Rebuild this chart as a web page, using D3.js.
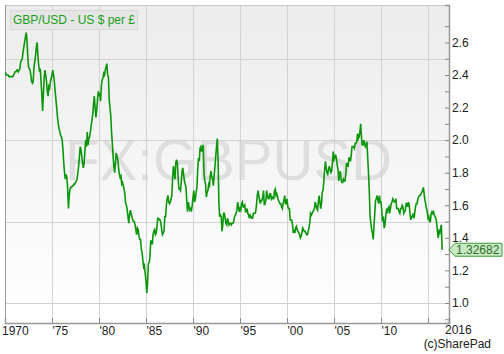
<!DOCTYPE html>
<html>
<head>
<meta charset="utf-8">
<script src="https://cdn.jsdelivr.net/npm/d3@7"></script>
<style>
  html, body { margin: 0; padding: 0; background: #ffffff; }
  svg { display: block; font-family: "Liberation Sans", Arial, sans-serif; }
</style>
</head>
<body>
<svg id="chart" width="504" height="354"></svg>
<script>
// ---- data (monthly GBP/USD, Jan 1970 .. Jul 2016) ----
const startYear = 1970;
const rates = [
  // 1970
  2.42, 2.41, 2.40, 2.40, 2.40, 2.39, 2.39, 2.39, 2.39, 2.39, 2.39, 2.40,
  // 1971
  2.41, 2.42, 2.42, 2.43, 2.43, 2.42, 2.43, 2.44, 2.48, 2.49, 2.50, 2.54,
  // 1972
  2.57, 2.60, 2.63, 2.66, 2.62, 2.52, 2.45, 2.44, 2.43, 2.40, 2.36, 2.35,
  // 1973
  2.36, 2.45, 2.48, 2.52, 2.57, 2.60, 2.52, 2.46, 2.42, 2.44, 2.36, 2.28,
  // 1974
  2.18, 2.28, 2.38, 2.43, 2.40, 2.36, 2.30, 2.27, 2.33, 2.32, 2.36, 2.38,
  // 1975
  2.40, 2.43, 2.40, 2.36, 2.30, 2.25, 2.20, 2.14, 2.10, 2.07, 2.05, 2.03,
  // 1976
  2.02, 2.00, 1.94, 1.86, 1.80, 1.76, 1.79, 1.77, 1.70, 1.58, 1.66, 1.70,
  // 1977
  1.71, 1.71, 1.72, 1.72, 1.73, 1.73, 1.74, 1.75, 1.76, 1.80, 1.84, 1.90,
  // 1978
  1.96, 1.94, 1.90, 1.86, 1.83, 1.86, 1.93, 2.00, 1.96, 2.05, 1.97, 2.01,
  // 1979
  2.02, 2.05, 2.09, 2.12, 2.16, 2.22, 2.27, 2.20, 2.14, 2.18, 2.24, 2.30,
  // 1980
  2.27, 2.29, 2.24, 2.33, 2.37, 2.38, 2.41, 2.40, 2.43, 2.45, 2.47, 2.40,
  // 1981
  2.39, 2.25, 2.20, 2.15, 2.05, 1.98, 1.90, 1.84, 1.80, 1.86, 1.92, 1.90,
  // 1982
  1.88, 1.83, 1.79, 1.77, 1.78, 1.73, 1.74, 1.72, 1.70, 1.67, 1.61, 1.60,
  // 1983
  1.57, 1.53, 1.49, 1.54, 1.57, 1.55, 1.53, 1.51, 1.50, 1.50, 1.48, 1.45,
  // 1984
  1.42, 1.46, 1.45, 1.41, 1.39, 1.39, 1.33, 1.31, 1.26, 1.22, 1.23, 1.18,
  // 1985
  1.13, 1.06, 1.12, 1.24, 1.25, 1.28, 1.38, 1.38, 1.36, 1.42, 1.44, 1.45,
  // 1986
  1.42, 1.43, 1.47, 1.52, 1.52, 1.51, 1.51, 1.49, 1.45, 1.42, 1.43, 1.44,
  // 1987
  1.53, 1.53, 1.60, 1.64, 1.66, 1.62, 1.61, 1.62, 1.64, 1.66, 1.77, 1.84,
  // 1988
  1.80, 1.76, 1.86, 1.88, 1.86, 1.77, 1.70, 1.70, 1.69, 1.74, 1.81, 1.83,
  // 1989
  1.79, 1.75, 1.73, 1.71, 1.63, 1.56, 1.62, 1.59, 1.57, 1.58, 1.57, 1.60,
  // 1990
  1.65, 1.69, 1.62, 1.64, 1.68, 1.71, 1.82, 1.89, 1.87, 1.95, 1.96, 1.93,
  // 1991
  1.95, 1.97, 1.80, 1.75, 1.73, 1.65, 1.68, 1.69, 1.73, 1.72, 1.78, 1.81,
  // 1992
  1.78, 1.76, 1.72, 1.78, 1.84, 1.90, 1.96, 2.01, 1.88, 1.62, 1.53, 1.54,
  // 1993
  1.53, 1.44, 1.48, 1.55, 1.55, 1.52, 1.49, 1.48, 1.52, 1.50, 1.48, 1.49,
  // 1994
  1.49, 1.48, 1.49, 1.49, 1.50, 1.53, 1.54, 1.55, 1.57, 1.62, 1.59, 1.56,
  // 1995
  1.58, 1.57, 1.61, 1.62, 1.59, 1.59, 1.60, 1.56, 1.56, 1.58, 1.55, 1.54,
  // 1996
  1.52, 1.54, 1.53, 1.52, 1.52, 1.55, 1.55, 1.55, 1.56, 1.60, 1.66, 1.69,
  // 1997
  1.66, 1.63, 1.61, 1.63, 1.63, 1.65, 1.69, 1.60, 1.61, 1.63, 1.69, 1.66,
  // 1998
  1.64, 1.64, 1.67, 1.67, 1.64, 1.65, 1.64, 1.64, 1.69, 1.70, 1.66, 1.67,
  // 1999
  1.65, 1.63, 1.62, 1.61, 1.61, 1.59, 1.58, 1.61, 1.63, 1.66, 1.61, 1.61,
  // 2000
  1.64, 1.59, 1.58, 1.58, 1.51, 1.51, 1.51, 1.48, 1.43, 1.45, 1.43, 1.46,
  // 2001
  1.47, 1.45, 1.44, 1.43, 1.42, 1.40, 1.41, 1.43, 1.46, 1.45, 1.44, 1.44,
  // 2002
  1.43, 1.42, 1.42, 1.44, 1.46, 1.49, 1.55, 1.54, 1.55, 1.56, 1.57, 1.58,
  // 2003
  1.62, 1.60, 1.58, 1.57, 1.62, 1.66, 1.62, 1.58, 1.61, 1.68, 1.69, 1.75,
  // 2004
  1.82, 1.87, 1.83, 1.80, 1.79, 1.82, 1.84, 1.82, 1.80, 1.81, 1.86, 1.93,
  // 2005
  1.88, 1.89, 1.91, 1.89, 1.85, 1.82, 1.75, 1.79, 1.81, 1.76, 1.74, 1.74,
  // 2006
  1.76, 1.75, 1.75, 1.79, 1.86, 1.84, 1.84, 1.89, 1.89, 1.87, 1.91, 1.96,
  // 2007
  1.96, 1.96, 1.95, 1.98, 1.98, 1.99, 2.04, 2.01, 2.02, 2.05, 2.10, 2.02,
  // 2008
  1.97, 1.97, 2.00, 1.98, 1.96, 1.97, 1.99, 1.89, 1.80, 1.69, 1.53, 1.49,
  // 2009
  1.45, 1.43, 1.39, 1.47, 1.55, 1.63, 1.64, 1.66, 1.63, 1.61, 1.66, 1.62,
  // 2010
  1.62, 1.56, 1.50, 1.53, 1.46, 1.48, 1.53, 1.57, 1.56, 1.58, 1.59, 1.55,
  // 2011
  1.58, 1.61, 1.62, 1.64, 1.63, 1.62, 1.62, 1.64, 1.58, 1.58, 1.58, 1.56,
  // 2012
  1.55, 1.58, 1.58, 1.60, 1.59, 1.55, 1.56, 1.57, 1.61, 1.61, 1.59, 1.62,
  // 2013
  1.60, 1.55, 1.51, 1.53, 1.53, 1.55, 1.52, 1.55, 1.59, 1.61, 1.61, 1.64,
  // 2014
  1.65, 1.66, 1.66, 1.67, 1.68, 1.69, 1.71, 1.67, 1.63, 1.61, 1.58, 1.56,
  // 2015
  1.52, 1.53, 1.50, 1.50, 1.55, 1.56, 1.55, 1.56, 1.54, 1.53, 1.52, 1.49,
  // 2016
  1.44, 1.40, 1.44, 1.43, 1.46, 1.48, 1.32682
];
const lastValue = "1.32682";
const yTickValues = [0.9,1.0,1.1,1.2,1.3,1.4,1.5,1.6,1.7,1.8,1.9,2.0,2.1,2.2,2.3,2.4,2.5,2.6,2.7];
const yLabelValues = [1.0,1.2,1.4,1.6,1.8,2.0,2.2,2.4,2.6];
const yGridValues = [1.0,1.5,2.0,2.5];
const xTickYears = [1975,1980,1985,1990,1995,2000,2005,2010,2015];
const xTickLabels = ["'75","'80","'85","'90","'95","'00","'05","'10",""];
const seriesName = "GBP/USD - US $ per £";
const watermark = "FX:GBPUSD";
const credit = "(c)SharePad";

// ---- layout ----
const L = 5, R = 449, T = 5, B = 323;
const svg = d3.select("#chart");

const x = d3.scaleLinear().domain([1970, 2017.23]).range([L, R]);
const y = d3.scaleLinear().domain([0.877, 2.83]).range([B, T]);

const data = rates.map((v, i) => ({ t: startYear + i / 12, v }));

// background gradient
const defs = svg.append("defs");
const grad = defs.append("linearGradient").attr("id", "bg").attr("x1", 0).attr("x2", 0).attr("y1", 0).attr("y2", 1);
grad.append("stop").attr("offset", "0%").attr("stop-color", "#ececec");
grad.append("stop").attr("offset", "100%").attr("stop-color", "#ffffff");
defs.append("clipPath").attr("id", "clip").append("rect")
  .attr("x", L).attr("y", T).attr("width", R - L).attr("height", B - T);

svg.append("rect").attr("x", L).attr("y", T).attr("width", R - L).attr("height", B - T)
  .attr("fill", "url(#bg)");

// watermark
svg.append("text").attr("x", 65).attr("y", 180)
  .attr("font-size", 58).attr("fill", "#dedede")
  .attr("textLength", 327).attr("lengthAdjust", "spacingAndGlyphs")
  .text(watermark);

// grid
svg.append("g").selectAll("line").data(xTickYears).join("line")
  .attr("x1", d => Math.round(x(d)) + 0.5).attr("x2", d => Math.round(x(d)) + 0.5)
  .attr("y1", T).attr("y2", B).attr("stroke", "#d2d2d2").attr("stroke-width", 1);
svg.append("g").selectAll("line").data(yGridValues).join("line")
  .attr("x1", L).attr("x2", R)
  .attr("y1", d => Math.round(y(d)) + 0.5).attr("y2", d => Math.round(y(d)) + 0.5)
  .attr("stroke", "#d2d2d2").attr("stroke-width", 1);

// frame top/left
svg.append("line").attr("x1", L).attr("x2", R).attr("y1", T + 0.5).attr("y2", T + 0.5).attr("stroke", "#c8c8c8");
svg.append("line").attr("x1", L + 0.5).attr("x2", L + 0.5).attr("y1", T).attr("y2", B).attr("stroke", "#999");

// line
const line = d3.line().x(d => x(d.t)).y(d => y(d.v));
svg.append("path").datum(data).attr("clip-path", "url(#clip)")
  .attr("d", line).attr("fill", "none").attr("stroke", "#0a960a")
  .attr("stroke-width", 1.6).attr("stroke-linejoin", "miter");

// right axis
const yAxis = d3.axisRight(y).tickValues(yTickValues).tickSize(-4).tickPadding(3)
  .tickFormat(d => yLabelValues.some(v => Math.abs(v - d) < 1e-9) ? d3.format(".1f")(d) : "");
const ya = svg.append("g").attr("transform", `translate(${R},0)`).call(yAxis);
ya.select(".domain").attr("stroke", "#999").attr("stroke-width", 1.5);
ya.selectAll(".tick line").attr("stroke", "#888");
ya.selectAll("text").attr("font-size", 12).attr("fill", "#222")
  .attr("font-family", "Liberation Sans, Arial, sans-serif");

// bottom axis
const xAxis = d3.axisBottom(x).tickValues(xTickYears).tickSize(-5).tickPadding(3)
  .tickFormat((d, i) => xTickLabels[i]);
const xa = svg.append("g").attr("transform", `translate(0,${B})`).call(xAxis);
xa.select(".domain").attr("stroke", "#999").attr("stroke-width", 1.5);
xa.selectAll(".tick line").attr("stroke", "#888");
xa.selectAll("text").attr("font-size", 12).attr("fill", "#222").attr("text-anchor", "start")
  .attr("font-family", "Liberation Sans, Arial, sans-serif");
svg.append("text").attr("x", 2).attr("y", 335).attr("font-size", 12).attr("fill", "#222").text("1970");
svg.append("text").attr("x", 445).attr("y", 334).attr("font-size", 12).attr("fill", "#222").text("2016");
svg.append("text").attr("x", 491).attr("y", 348).attr("font-size", 12).attr("fill", "#222")
  .attr("text-anchor", "end").text(credit);

// legend
svg.append("rect").attr("x", 10.5).attr("y", 10.5).attr("width", 127).attr("height", 19)
  .attr("fill", "#e6e6e6").attr("stroke", "#d8d8d8");
svg.append("text").attr("x", 13).attr("y", 24).attr("font-size", 12).attr("fill", "#17a017").text(seriesName);

// last value marker
const ly = y(rates[rates.length - 1]);
const bx0 = 455, bx1 = 502, bh = 13;
svg.append("path")
  .attr("d", `M${R},${ly} L${bx0},${ly - bh / 2} L${bx1},${ly - bh / 2} L${bx1},${ly + bh / 2} L${bx0},${ly + bh / 2} Z`)
  .attr("fill", "#c9e8c4").attr("stroke", "#3a9c3a").attr("stroke-width", 1);
svg.append("text").attr("x", bx0 + 1).attr("y", ly + 4.5).attr("font-size", 12)
  .attr("fill", "#2b6e2b").text(lastValue);
</script>
</body>
</html>
